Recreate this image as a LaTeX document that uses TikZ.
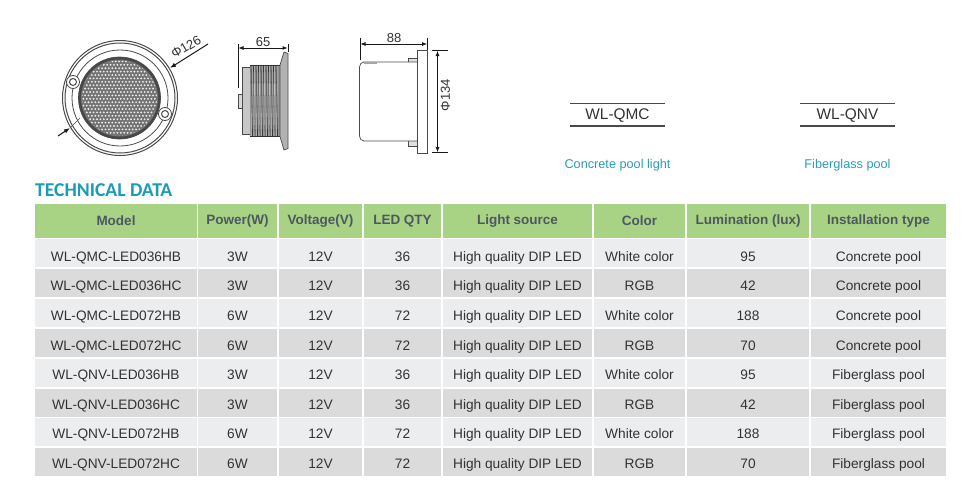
\documentclass[tikz,border=0pt]{standalone}
\usepackage{fontspec}
\setmainfont{Liberation Sans}
\newfontfamily\titlefont{Carlito}
\definecolor{headgreen}{HTML}{A9D384}
\definecolor{headtext}{HTML}{4D5763}
\definecolor{rowlight}{HTML}{ECEDEF}
\definecolor{rowdark}{HTML}{DBDBDB}
\definecolor{celltext}{HTML}{333333}
\definecolor{poolblue}{HTML}{2A9DBF}
\definecolor{titleblue}{HTML}{1B9CB6}
\definecolor{partgray}{HTML}{4A4A4A}
\usetikzlibrary{arrows.meta}

\begin{document}
\begin{tikzpicture}[x=1pt,y=-1pt,
    cell/.style={inner sep=0pt,minimum height=28pt,text depth=1.2pt,
      text=celltext,font=\fontsize{13.7}{15}\selectfont},
    headcell/.style={inner sep=0pt,minimum height=34pt,fill=headgreen,text=headtext,
      font=\fontsize{13.5}{15}\selectfont\bfseries},
    dimline/.style={line width=1pt,black!90,{Latex[length=5.5pt,width=4pt]}-{Latex[length=5.5pt,width=4pt]}},
    extline/.style={line width=1pt,black!90},
    dimlabel/.style={inner sep=0pt,text=black!80,font=\fontsize{13}{15}\selectfont},
    partline/.style={line width=0.7pt,draw=partgray},
    modelrule/.style={line width=1.2pt,draw=partgray},
    modelname/.style={inner sep=0pt,text=celltext,font=\fontsize{15.4}{17}\selectfont},
    poolname/.style={inner sep=0pt,text=poolblue,font=\fontsize{12.7}{15}\selectfont}]
    \useasboundingbox (0,0) rectangle (980,493);
    \fill[white] (0,0) rectangle (980,493);

    % front view
    \draw[partline,line width=1pt] (120,98) circle (57.5) (120,98) circle (55);
    \draw[partline,line width=0.8pt] (120,98) circle (48);
    \draw[partline,fill=black!72,line width=0.7pt] (119.5,98) circle (41);
    \fill[black!55] (119.5,98) circle (38.5);
    \begin{scope}
      \clip (119.5,98) circle (37.5);
      \foreach \x in {0,...,23} {
        \foreach \y [evaluate=\y as \shiftx using {1.7*mod(\y,2)}] in {0,...,23} {
          \fill[white!92!black] (80+\x*3.4+\shiftx,58+\y*3.4) circle (1.05);
        }
      }
    \end{scope}
    \foreach \sx/\sy in {73/82,165/114} {
      \draw[partline,fill=white,line width=0.8pt] (\sx,\sy) circle (6.5);
      \draw[partline,line width=1pt] (\sx,\sy) circle (3.5);
    }
    \coordinate (front-top) at (208,44);
    \coordinate (front-rim) at (170,68);
    \coordinate (front-tail) at (58,136);
    \coordinate (front-ring) at (70,128);
    \coordinate (front-lens) at (80,118);
    \draw[extline,-{Latex[length=6pt,width=4.5pt]}] (front-top) -- (front-rim);
    \draw[extline,-{Latex[length=6pt,width=4.5pt]}] (front-tail) -- (front-ring);
    \draw[partline] (front-ring) -- (front-lens);
    \node[dimlabel,rotate=30] (front-dia) at (186,47) {Φ126};

    % side view, threaded
    \draw[partline,fill=black!22] (242,67) rectangle (250.5,134.5);
    \draw[partline,fill=black!15] (238,94) rectangle (242,108);
    \fill[black!42] (250,65) rectangle (280,136.5);
    \foreach \x in {251,253.5,...,278} {
      \draw[black!78,line width=0.8pt] (\x,65) -- (\x+1.5,136.5);
      \draw[black!25,line width=0.6pt] (\x+1.2,65) -- (\x+0.6,136.5);
    }
    \draw[black!80,line width=0.9pt] (250,65) -- (280,65) (250,136.5) -- (280,136.5);
    \draw[partline,fill=black!30] (284,52) -- (288,53.5) -- (288,148.5) -- (284,150)
      -- (280,136.5) -- (280,65) -- cycle;

    \coordinate (side-left) at (238,48);
    \coordinate (side-right) at (288,48);
    \draw[extline] (238,44) -- (238,88);
    \draw[extline] (288,44) -- (288,52);
    \draw[dimline] (side-left) -- (side-right);
    \node[dimlabel] (side-len) at (263,42) {65};

    % side view, flat
    \foreach \sy in {61,104,143} {
      \draw[partline,fill=black!12] (408,\sy-3) rectangle (417,\sy+3);
    }
    \draw[partline,fill=white] (417,62) -- (364,62) to[out=180,in=90] (359.5,67) -- (359.5,136)
      to[out=-90,in=180] (364,141) -- (417,141);
    \fill[black!35] (364,61.5) rectangle (377,64);
    \draw[partline,fill=white,line width=0.8pt] (417.5,50) rectangle (427.5,153);

    \coordinate (flat-left) at (360,44);
    \coordinate (flat-right) at (427.5,44);
    \draw[extline] (360,38) -- (360,60);
    \draw[extline] (427.5,38) -- (427.5,50);
    \draw[dimline] (flat-left) -- (flat-right);
    \node[dimlabel] (flat-len) at (394,38) {88};

    \coordinate (flat-top) at (437.5,50.5);
    \coordinate (flat-bot) at (437.5,152.5);
    \draw[extline] (432,50.5) -- (448,50.5);
    \draw[extline] (432,152.5) -- (448,152.5);
    \draw[dimline] (flat-top) -- (flat-bot);
    \node[dimlabel,rotate=90] (flat-dia) at (445.5,95) {Φ134};

    % model names
    \foreach \n/\mx/\model/\pool in {qmc/617.5/WL-QMC/Concrete pool light,qnv/847.5/WL-QNV/Fiberglass pool} {
      \draw[modelrule] (\mx-47.5,103.7) -- (\mx+47.5,103.7);
      \draw[modelrule] (\mx-47.5,126) -- (\mx+47.5,126);
      \node[modelname] (name-\n) at (\mx,116) {\model};
      \node[poolname] (pool-\n) at (\mx,165) {\pool};
    }

    \node[anchor=west,inner sep=0pt,text=titleblue,font=\titlefont\bfseries\fontsize{19.6}{22}\selectfont] (title) at (35,190) {TECHNICAL DATA};

    % header
    \foreach \c/\cx/\cw/\txt in {1/116/162/Model,2/237.5/79/Power(W),3/320.5/83/Voltage(V),4/402.5/77/LED QTY,
        5/517.5/149/Light source,6/639.5/91/Color,7/748/122/Lumination (lux),8/878.5/135/Installation type} {
      \node[headcell,minimum width=\cw] (h-\c) at (\cx,221) {\txt};
    }
    % rows
    \foreach \r/\rowfill/\mdl/\pw/\volt/\qty/\clr/\lum/\inst [evaluate=\r as \ry using 253+29.9*(\r-1),
        evaluate=\r as \rowh using 17.6-0.6*(\r-1)] in {
        1/rowlight/WL-QMC-LED036HB/3W/12V/36/White color/95/Concrete pool,
        2/rowdark/WL-QMC-LED036HC/3W/12V/36/RGB/42/Concrete pool,
        3/rowlight/WL-QMC-LED072HB/6W/12V/72/White color/188/Concrete pool,
        4/rowdark/WL-QMC-LED072HC/6W/12V/72/RGB/70/Concrete pool,
        5/rowlight/WL-QNV-LED036HB/3W/12V/36/White color/95/Fiberglass pool,
        6/rowdark/WL-QNV-LED036HC/3W/12V/36/RGB/42/Fiberglass pool,
        7/rowlight/WL-QNV-LED072HB/6W/12V/72/White color/188/Fiberglass pool,
        8/rowdark/WL-QNV-LED072HC/6W/12V/72/RGB/70/Fiberglass pool} {
      \foreach \c/\cx/\cw/\txt in {1/116/162/\mdl,2/237.5/79/\pw,3/320.5/83/\volt,4/402.5/77/\qty,
          5/517.5/149/High quality DIP LED,6/639.5/91/\clr,7/748/122/\lum,8/878.5/135/\inst} {
        \node[cell,fill=\rowfill,minimum width=\cw,text height=\rowh] (g-\r-\c) at (\cx,\ry) {\txt};
      }
    }
\end{tikzpicture}
\end{document}
